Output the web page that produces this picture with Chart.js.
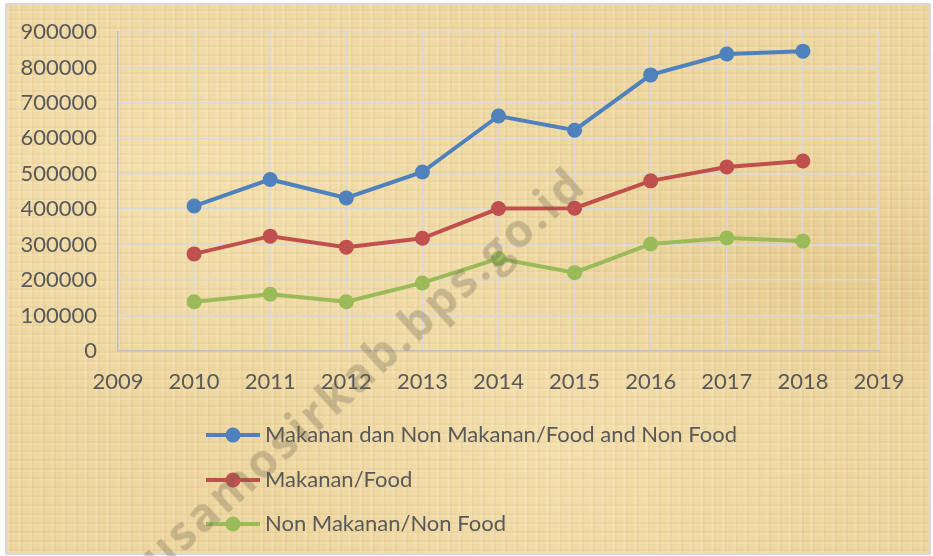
<!DOCTYPE html>
<html>
<head>
<meta charset="utf-8">
<script src="https://cdn.jsdelivr.net/npm/chart.js@4/dist/chart.umd.min.js"></script>
<style>
    body { margin: 0; width: 933px; height: 556px; background: #ffffff; position: relative; overflow: hidden; }
    #frame {
        position: absolute; left: 5px; top: 3px; width: 922px; height: 548px;
        border: 2px solid #d9d9d9;
        background-color: #edd69f;
        background-image:
            repeating-linear-gradient(90deg, rgba(255,250,230,0.12) 0 3px, rgba(150,110,40,0.05) 3px 5px, rgba(255,250,230,0) 5px 11px),
            repeating-linear-gradient(0deg, rgba(255,250,230,0.10) 0 2px, rgba(150,110,40,0.05) 2px 4px, rgba(255,250,230,0) 4px 9px),
            radial-gradient(ellipse at 20% 30%, rgba(255,240,200,0.35), rgba(255,240,200,0) 45%),
            radial-gradient(ellipse at 60% 80%, rgba(255,240,200,0.30), rgba(255,240,200,0) 40%),
            radial-gradient(ellipse at 95% 50%, rgba(200,160,80,0.20), rgba(200,160,80,0) 35%);
    }
    #watermark {
        position: absolute; right: 356px; top: 144px;
        transform-origin: 100% 50%; transform: rotate(-42deg);
        font: bold 46px "Open Sans", sans-serif; letter-spacing: 3px;
        color: rgba(105, 95, 75, 0.30); white-space: nowrap; pointer-events: none;
    }
</style>
</head>
<body>
<div id="frame"><canvas id="chart" width="922" height="548"></canvas></div>
<div id="watermark">usamosirkab.bps.go.id</div>
<script>
const years = [2010, 2011, 2012, 2013, 2014, 2015, 2016, 2017, 2018];
const totalValues = [409000, 484000, 432000, 505000, 663000, 623000, 779000, 838000, 846000];
const foodValues = [274000, 324000, 293000, 318000, 402000, 403000, 480000, 519000, 536000];
const nonFoodValues = [139000, 160000, 139000, 192000, 261000, 221000, 302000, 319000, 310000];
const seriesNames = ['Makanan dan Non Makanan/Food and Non Food', 'Makanan/Food', 'Non Makanan/Non Food'];
const seriesColors = ['#4f81bd', '#c0504d', '#9bbb59'];

const TEXT_COLOR = '#595959';
const FONT = { family: 'Lato', size: 22 };

function toPoints(values) {
    return years.map((year, i) => ({ x: year, y: values[i] }));
}

function makeDataset(i, values) {
    return {
        label: seriesNames[i],
        data: toPoints(values),
        borderColor: seriesColors[i],
        backgroundColor: seriesColors[i],
        borderWidth: 4,
        pointRadius: 7.5,
        pointHoverRadius: 7.5,
        pointBorderWidth: 0,
        tension: 0
    };
}

// legend stacked in one column under the plot, drawn by hand
const stackedLegend = {
    id: 'stackedLegend',
    afterDraw(chart) {
        const ctx = chart.ctx;
        const rows = [430, 475, 519];
        ctx.save();
        chart.data.datasets.forEach((ds, i) => {
            const y = rows[i];
            ctx.strokeStyle = ds.borderColor;
            ctx.lineWidth = 4;
            ctx.beginPath();
            ctx.moveTo(199, y);
            ctx.lineTo(253, y);
            ctx.stroke();
            ctx.fillStyle = ds.borderColor;
            ctx.beginPath();
            ctx.arc(226, y, 7.5, 0, Math.PI * 2);
            ctx.fill();
            ctx.fillStyle = TEXT_COLOR;
            ctx.font = '22px Lato';
            ctx.textBaseline = 'middle';
            ctx.fillText(ds.label, 258, y);
        });
        ctx.restore();
    }
};

new Chart(document.getElementById('chart'), {
    type: 'line',
    data: {
        datasets: [
            makeDataset(0, totalValues),
            makeDataset(1, foodValues),
            makeDataset(2, nonFoodValues)
        ]
    },
    options: {
        responsive: false,
        animation: false,
        layout: { padding: { top: 27, right: 50, bottom: 0, left: 0 } },
        plugins: {
            legend: { display: false },
            tooltip: { enabled: false }
        },
        scales: {
            x: {
                type: 'linear',
                min: 2009,
                max: 2019,
                afterFit: (scale) => {
                    scale.height = 202;
                    scale.paddingLeft = 0;
                    scale.paddingRight = 0;
                },
                ticks: {
                    stepSize: 1,
                    padding: 18,
                    color: TEXT_COLOR,
                    font: FONT,
                    maxRotation: 0,
                    callback: (v) => String(v)
                },
                grid: { color: '#d9d9d9', lineWidth: 1.5, drawTicks: false },
                border: { color: '#bfbfbf', width: 1.5 }
            },
            y: {
                min: 0,
                max: 900000,
                afterFit: (scale) => {
                    scale.width = 111;
                    scale.paddingTop = 0;
                    scale.paddingBottom = 0;
                },
                ticks: {
                    stepSize: 100000,
                    padding: 21,
                    color: TEXT_COLOR,
                    font: FONT,
                    callback: (v) => String(v)
                },
                grid: { color: '#d9d9d9', lineWidth: 1.5, drawTicks: false },
                border: { color: '#bfbfbf', width: 1.5 }
            }
        }
    },
    plugins: [stackedLegend]
});
</script>
</body>
</html>
